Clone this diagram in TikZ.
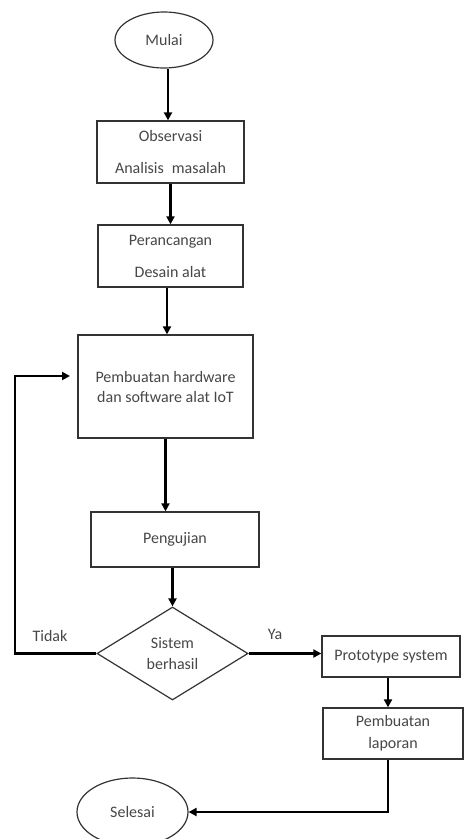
\documentclass[tikz,border=0pt]{standalone}
\usepackage{fontspec}
\setmainfont{Carlito}
\usetikzlibrary{shapes.geometric,arrows.meta}
\begin{document}
\begin{tikzpicture}[x=1pt,y=-1pt,
 box/.style={draw=black!80, line width=1.3pt, rectangle, inner sep=0pt, align=center, text=black!72},
 term/.style={draw=black!80, line width=1.2pt, ellipse, inner sep=0pt, text=black!72},
 dec/.style={draw=black!80, line width=1.2pt, diamond, inner sep=0pt, align=center, text=black!72},
 arr/.style={line width=2.5pt, line join=miter, -{Triangle[length=8pt,width=8pt]}},
 lbl/.style={text=black!72},
 font=\fontsize{16}{18}\selectfont]
\useasboundingbox (0,0) rectangle (464,839);
\clip (0,0) rectangle (464,839);
\fill[white] (0,0) rectangle (464,839);

\node[term, minimum width=98, minimum height=56] (mulai) at (164,40) {Mulai};
\node[box, minimum width=147, minimum height=62, font=\fontsize{16}{32}\selectfont] (obs) at (170.5,152) {Observasi\\Analisis\hspace{0.5em}masalah};
\node[box, minimum width=145, minimum height=62, font=\fontsize{16}{32}\selectfont] (per) at (170.5,256) {Perancangan\\Desain alat};
\node[box, minimum width=175, minimum height=103, font=\fontsize{16}{20}\selectfont] (pemb) at (165.5,386.5) {Pembuatan hardware\\dan software alat IoT};
\node[box, minimum width=168, minimum height=55] (peng) at (175,539.5) {Pengujian};
\node[dec, minimum width=151, minimum height=93, font=\fontsize{16}{21}\selectfont] (dec) at (172.5,653.5) {Sistem\\berhasil};
\node[box, minimum width=138, minimum height=41] (proto) at (391,656.5) {Prototype system};
\node[box, minimum width=140, minimum height=51, font=\fontsize{16}{22}\selectfont] (lap) at (393,733.5) {Pembuatan\\laporan};
\node[term, minimum width=111, minimum height=68] (sel) at (132.5,812) {Selesai};
\node[lbl] (tidak) at (50,636) {Tidak};
\node[lbl] (ya) at (275,634) {Ya};

\coordinate (loopcorner) at (15,376);
\coordinate (loopend) at (70,376);

\draw[arr] ([xshift=4]mulai.south) -- ([xshift=4]mulai.south |- obs.north);
\draw[arr] (obs.south) -- (per.north);
\draw[arr] ([xshift=-3.5]per.south) -- ([xshift=-3.5]per.south |- pemb.north);
\draw[arr] (pemb.south) -- (pemb.south |- peng.north);
\draw[arr] (dec.north |- peng.south) -- (dec.north);
\draw[arr] (dec.east) -- (dec.east -| proto.west);
\draw[arr] ([xshift=-3]proto.south) -- ([xshift=-3]proto.south |- lap.north);
\draw[arr] ([xshift=-5]lap.south) |- (sel.east);
\draw[arr] (dec.west) -| (loopcorner) -- (loopend);
\end{tikzpicture}
\end{document}
